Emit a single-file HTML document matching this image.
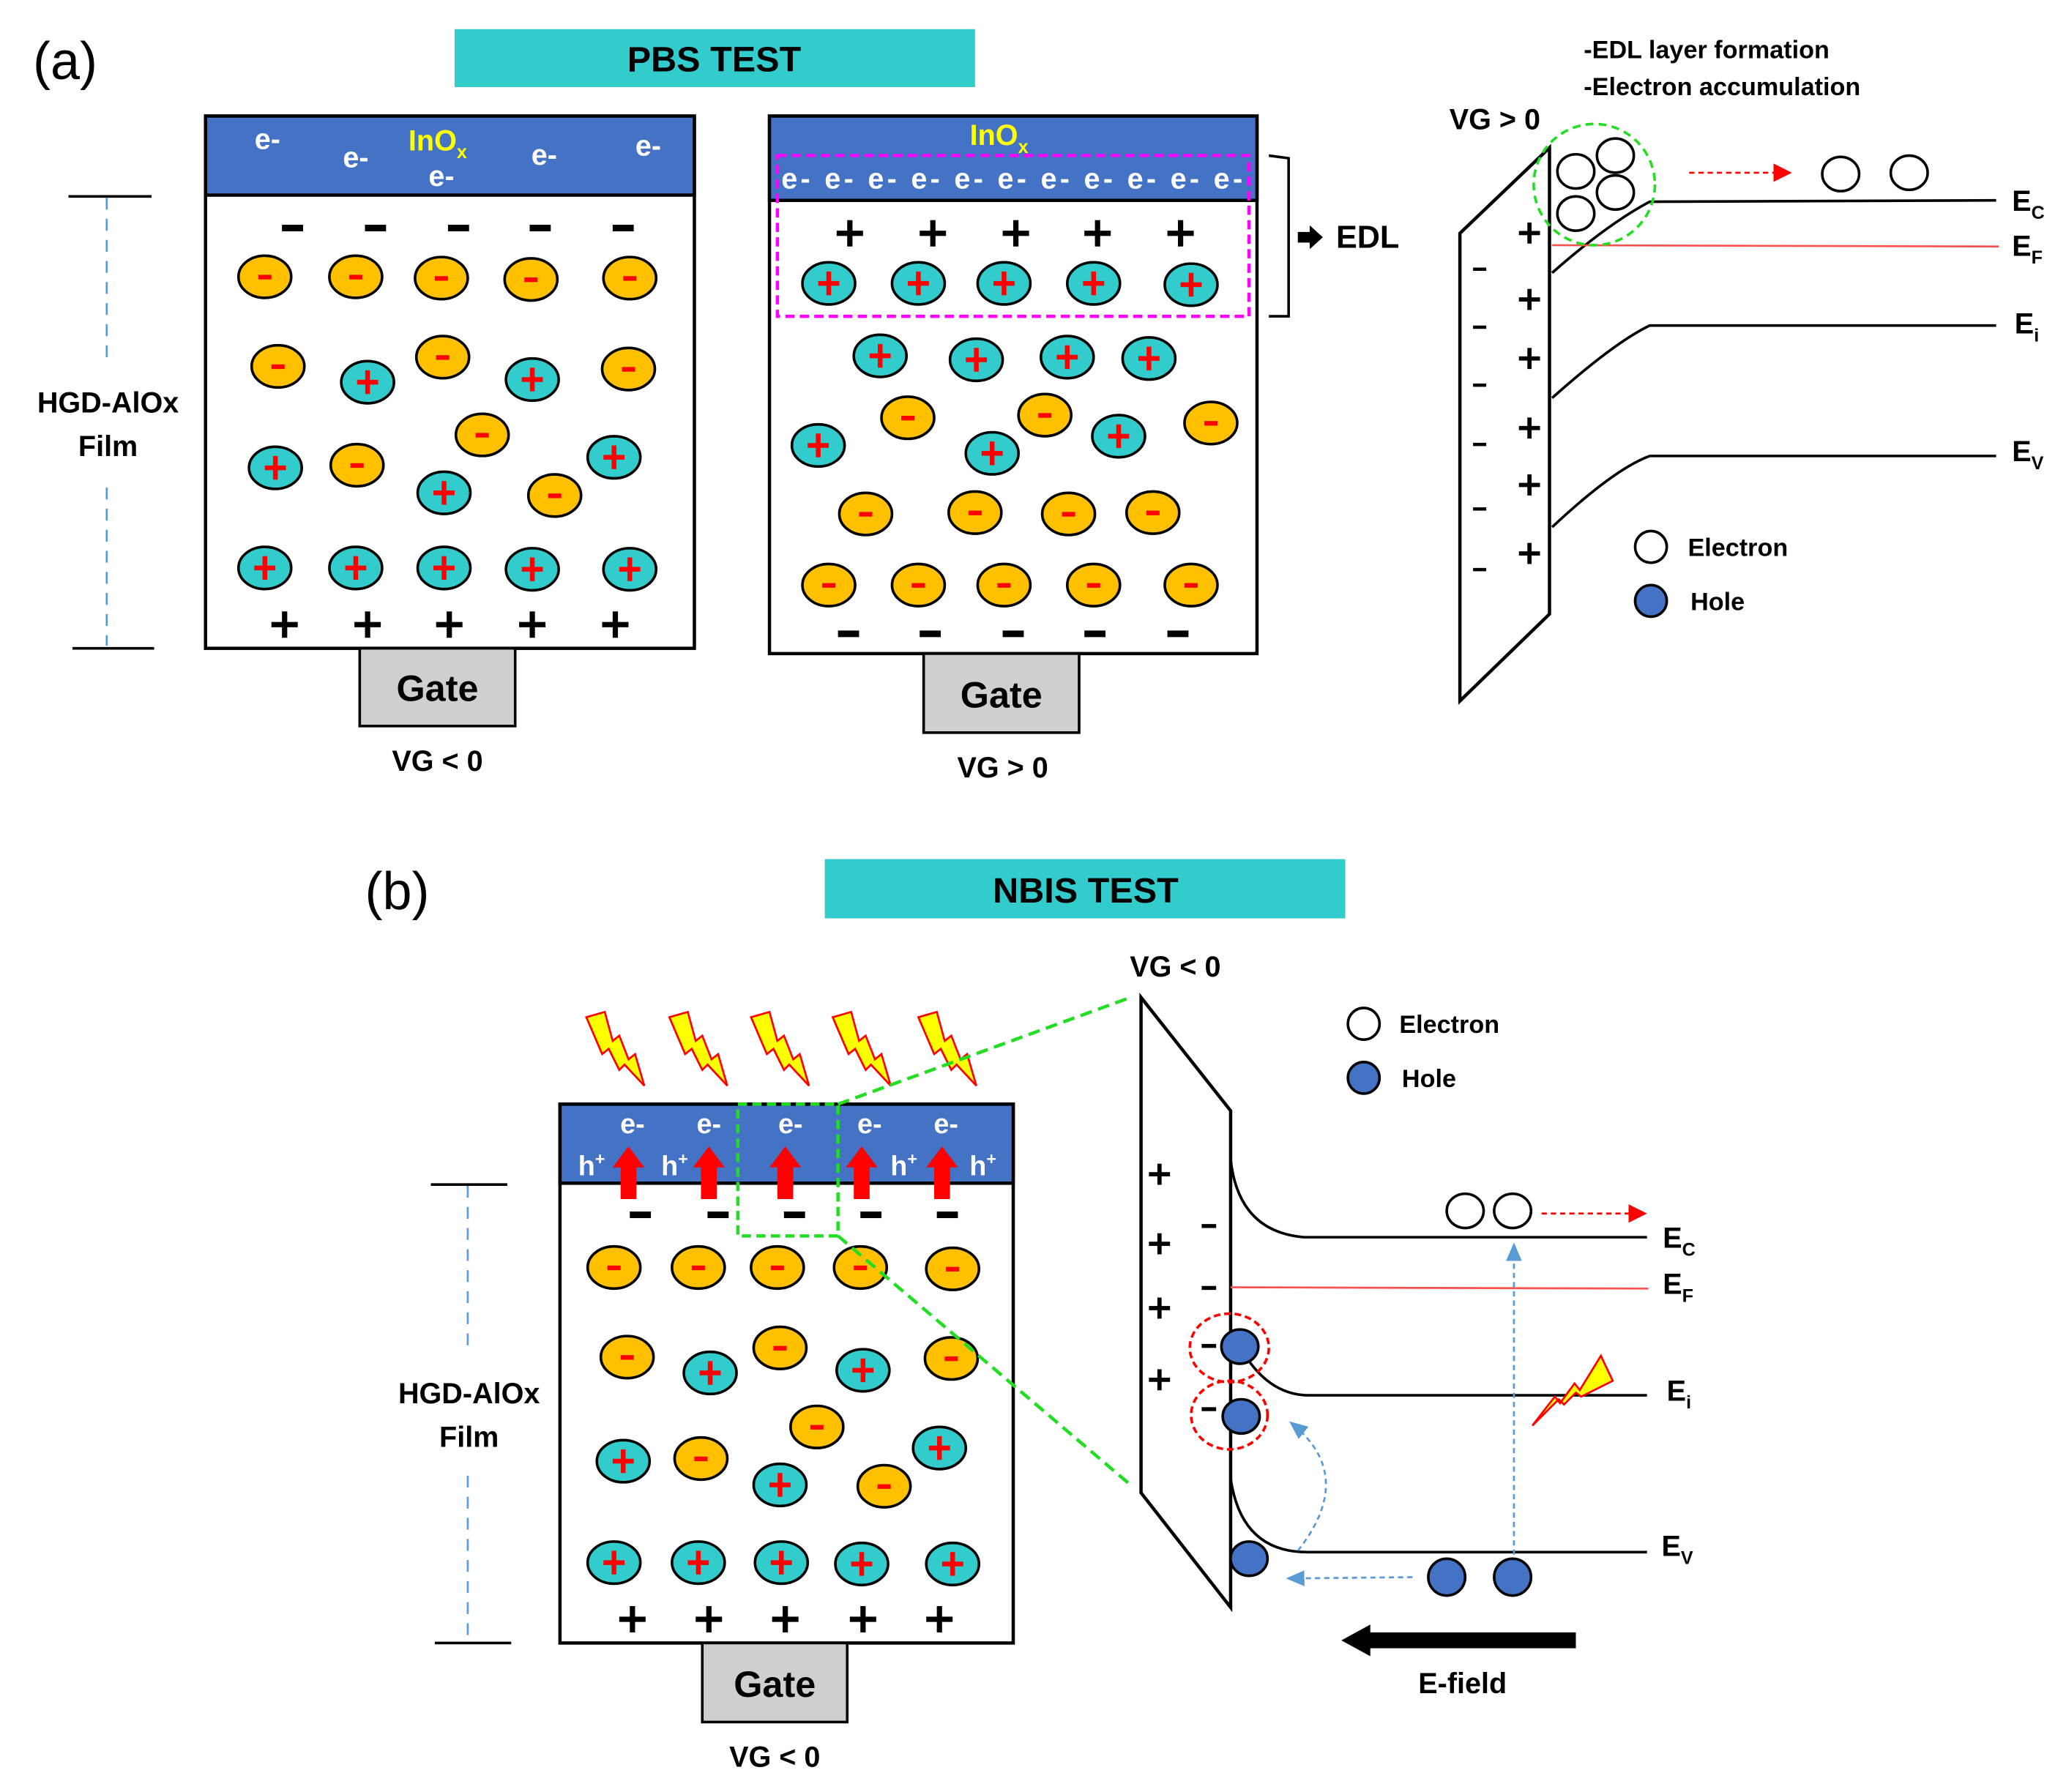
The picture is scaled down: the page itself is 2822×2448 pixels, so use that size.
<!DOCTYPE html>
<html><head><meta charset="utf-8"><style>
html,body{margin:0;padding:0;background:#fff}
svg{display:block}
text{font-family:"Liberation Sans",sans-serif;font-weight:bold}
</style></head><body>
<svg width="2822" height="2448" viewBox="0 0 1568 1360" xmlns="http://www.w3.org/2000/svg">
<defs>
<g id="o"><ellipse rx="20" ry="16" fill="#FFC000" stroke="#000" stroke-width="2"/><rect x="-5" y="-1.5" width="10" height="3.5" fill="#f00"/></g>
<g id="c"><ellipse rx="20" ry="16" fill="#33CCCC" stroke="#000" stroke-width="2"/><rect x="-8" y="-1.8" width="16" height="3.6" fill="#f00"/><rect x="-1.8" y="-9" width="3.6" height="18" fill="#f00"/></g>
<g id="m"><rect x="-8" y="-2.5" width="16" height="5" fill="#000"/></g>
<g id="p"><rect x="-10" y="-2" width="20" height="4" fill="#000"/><rect x="-2" y="-10" width="4" height="20" fill="#000"/></g>
<g id="bolt"><path d="M0,0 L14,-4 L20,18 L25,14 L32,32 L37,28 L44,52 L29,36 L25,40 L17,24 L12,28 Z" fill="#FFFF00" stroke="#f00" stroke-width="1.5"/></g>
<marker id="ar" markerWidth="8" markerHeight="8" refX="7" refY="4" orient="auto" markerUnits="userSpaceOnUse"><path d="M0,0 L8,4 L0,8Z" fill="#f00"/></marker>
<marker id="ab" markerWidth="14" markerHeight="12" refX="12" refY="6" orient="auto" markerUnits="userSpaceOnUse"><path d="M0,0 L14,6 L0,12Z" fill="#5B9BD5"/></marker>
<marker id="ar2" markerWidth="14" markerHeight="14" refX="12" refY="7" orient="auto" markerUnits="userSpaceOnUse"><path d="M0,0 L14,7 L0,14Z" fill="#f00"/></marker>
</defs>

<!-- (a) -->
<text x="25" y="60" font-size="40" style="font-weight:normal">(a)</text>
<rect x="345" y="22" width="395" height="44" fill="#33CCCC"/>
<text x="542" y="54" font-size="27" text-anchor="middle">PBS TEST</text>

<!-- scale bar a -->
<line x1="52" y1="149" x2="115" y2="149" stroke="#000" stroke-width="2"/>
<line x1="55" y1="492" x2="117" y2="492" stroke="#000" stroke-width="2"/>
<line x1="81" y1="150" x2="81" y2="275" stroke="#5B9BD5" stroke-width="1.5" stroke-dasharray="9,7"/>
<line x1="81" y1="370" x2="81" y2="490" stroke="#5B9BD5" stroke-width="1.5" stroke-dasharray="9,7"/>
<text x="82" y="313" font-size="22" text-anchor="middle">HGD-AlOx</text>
<text x="82" y="346" font-size="22" text-anchor="middle">Film</text>

<!-- left box -->
<rect x="156" y="88" width="371" height="404" fill="#fff" stroke="#000" stroke-width="2.5"/>
<rect x="156" y="88" width="371" height="60" fill="#4472C4" stroke="#000" stroke-width="2.5"/>
<g fill="#fff" font-size="22"><text x="203" y="113" text-anchor="middle">e-</text><text x="270" y="127" text-anchor="middle">e-</text><text x="335" y="141" text-anchor="middle">e-</text><text x="413" y="125" text-anchor="middle">e-</text><text x="492" y="118" text-anchor="middle">e-</text></g>
<text x="310" y="114" font-size="22" fill="#FFFF00">InO<tspan font-size="14" dy="6">x</tspan></text>
<use href="#m" x="222" y="173"/><use href="#m" x="285" y="173"/><use href="#m" x="348" y="173"/><use href="#m" x="410" y="173"/><use href="#m" x="473" y="173"/>
<use href="#o" x="201" y="210"/><use href="#o" x="270" y="210"/><use href="#o" x="335" y="211"/><use href="#o" x="403" y="212"/><use href="#o" x="478" y="211"/>
<use href="#o" x="211" y="278"/><use href="#c" x="279" y="290"/><use href="#o" x="336" y="271"/><use href="#c" x="404" y="288"/><use href="#o" x="477" y="280"/>
<use href="#c" x="209" y="355"/><use href="#o" x="271" y="353"/><use href="#o" x="366" y="330"/><use href="#c" x="337" y="374"/><use href="#o" x="421" y="376"/><use href="#c" x="466" y="347"/>
<use href="#c" x="201" y="431"/><use href="#c" x="270" y="431"/><use href="#c" x="337" y="431"/><use href="#c" x="404" y="432"/><use href="#c" x="478" y="432"/>
<use href="#p" x="216" y="474"/><use href="#p" x="279" y="474"/><use href="#p" x="341" y="474"/><use href="#p" x="404" y="474"/><use href="#p" x="467" y="474"/>
<rect x="273" y="492" width="118" height="59" fill="#D0CECE" stroke="#000" stroke-width="2"/>
<text x="332" y="532" font-size="28" text-anchor="middle">Gate</text>
<text x="332" y="585" font-size="22" text-anchor="middle">VG &lt; 0</text>

<!-- middle box -->
<rect x="584" y="88" width="370" height="408" fill="#fff" stroke="#000" stroke-width="2.5"/>
<rect x="584" y="88" width="370" height="64" fill="#4472C4" stroke="#000" stroke-width="2.5"/>
<text x="736" y="110" font-size="22" fill="#FFFF00">InO<tspan font-size="14" dy="6">x</tspan></text>
<text x="593" y="143" font-size="22" fill="#fff" textLength="350">e- e- e- e- e- e- e- e- e- e- e-</text>
<rect x="590" y="118" width="358" height="122" fill="none" stroke="#FF00FF" stroke-width="2.5" stroke-dasharray="7,4"/>
<use href="#p" x="645" y="177"/><use href="#p" x="708" y="177"/><use href="#p" x="771" y="177"/><use href="#p" x="833" y="177"/><use href="#p" x="896" y="177"/>
<use href="#c" x="629" y="215"/><use href="#c" x="697" y="215"/><use href="#c" x="762" y="215"/><use href="#c" x="830" y="215"/><use href="#c" x="904" y="216"/>
<use href="#c" x="668" y="270"/><use href="#c" x="741" y="273"/><use href="#c" x="810" y="271"/><use href="#c" x="872" y="272"/>
<use href="#c" x="621" y="338"/><use href="#o" x="689" y="317"/><use href="#c" x="753" y="344"/><use href="#o" x="793" y="315"/><use href="#c" x="849" y="331"/><use href="#o" x="919" y="321"/>
<use href="#o" x="657" y="390"/><use href="#o" x="740" y="389"/><use href="#o" x="811" y="390"/><use href="#o" x="875" y="389"/>
<use href="#o" x="629" y="444"/><use href="#o" x="697" y="444"/><use href="#o" x="762" y="444"/><use href="#o" x="830" y="444"/><use href="#o" x="904" y="444"/>
<use href="#m" x="644" y="481"/><use href="#m" x="706" y="481"/><use href="#m" x="769" y="481"/><use href="#m" x="831" y="481"/><use href="#m" x="894" y="481"/>
<rect x="701" y="496" width="118" height="60" fill="#D0CECE" stroke="#000" stroke-width="2"/>
<text x="760" y="537" font-size="28" text-anchor="middle">Gate</text>
<text x="761" y="590" font-size="22" text-anchor="middle">VG &gt; 0</text>
<path d="M963,118 L978,120 L978,240 L963,240" fill="none" stroke="#000" stroke-width="2"/>
<path d="M985,176 L994,176 L994,171 L1004,180 L994,189 L994,184 L985,184Z" fill="#000"/>
<text x="1014" y="188" font-size="24">EDL</text>

<!-- right band diagram (a) -->
<text x="1202" y="44" font-size="19">-EDL layer formation</text>
<text x="1202" y="72" font-size="19">-Electron accumulation</text>
<text x="1100" y="98" font-size="22">VG &gt; 0</text>
<path d="M1108,532 L1108,177 L1176,112 L1176,466 Z" fill="none" stroke="#000" stroke-width="2.5"/>
<path d="M1178,207 Q1220,170 1252,153 L1515,152" fill="none" stroke="#000" stroke-width="2"/>
<line x1="1178" y1="186" x2="1517" y2="187" stroke="#FF5050" stroke-width="1.5"/>
<path d="M1178,302 Q1225,260 1252,247 L1515,247" fill="none" stroke="#000" stroke-width="2"/>
<path d="M1178,400 Q1225,356 1252,346 L1515,346" fill="none" stroke="#000" stroke-width="2"/>
<g font-size="22"><text x="1527" y="160">E<tspan font-size="14" dy="6">C</tspan></text><text x="1527" y="194">E<tspan font-size="14" dy="6">F</tspan></text><text x="1529" y="253">E<tspan font-size="14" dy="6">i</tspan></text><text x="1527" y="350">E<tspan font-size="14" dy="6">V</tspan></text></g>
<g transform="scale(0.8)"><use href="#p" x="1451" y="221"/><use href="#p" x="1451" y="284"/><use href="#p" x="1451" y="340"/><use href="#p" x="1451" y="406"/><use href="#p" x="1451" y="460"/><use href="#p" x="1451" y="525"/></g>
<g fill="#000"><rect x="1118" y="203" width="10" height="2.5"/><rect x="1118" y="247" width="10" height="2.5"/><rect x="1118" y="291" width="10" height="2.5"/><rect x="1118" y="336" width="10" height="2.5"/><rect x="1118" y="385" width="10" height="2.5"/><rect x="1118" y="431" width="10" height="2.5"/></g>
<circle cx="1210" cy="140" r="46" fill="none" stroke="#22DD22" stroke-width="2" stroke-dasharray="6,4"/>
<g fill="#fff" stroke="#000" stroke-width="2"><ellipse cx="1196" cy="130" rx="14" ry="13"/><ellipse cx="1226" cy="118" rx="14" ry="13"/><ellipse cx="1196" cy="162" rx="14" ry="13"/><ellipse cx="1226" cy="146" rx="14" ry="13"/><ellipse cx="1397" cy="132" rx="14" ry="13"/><ellipse cx="1449" cy="131" rx="14" ry="13"/></g>
<line x1="1282" y1="131" x2="1358" y2="131" stroke="#f00" stroke-width="1.5" stroke-dasharray="4,3" marker-end="url(#ar2)"/>
<circle cx="1253" cy="415" r="12" fill="#fff" stroke="#000" stroke-width="2"/>
<text x="1281" y="422" font-size="19">Electron</text>
<circle cx="1253" cy="456" r="12" fill="#4472C4" stroke="#000" stroke-width="2"/>
<text x="1283" y="463" font-size="19">Hole</text>

<!-- (b) -->
<text x="277" y="690" font-size="40" style="font-weight:normal">(b)</text>
<rect x="626" y="652" width="395" height="45" fill="#33CCCC"/>
<text x="824" y="685" font-size="27" text-anchor="middle">NBIS TEST</text>

<line x1="327" y1="899" x2="385" y2="899" stroke="#000" stroke-width="2"/>
<line x1="330" y1="1247" x2="388" y2="1247" stroke="#000" stroke-width="2"/>
<line x1="355" y1="900" x2="355" y2="1025" stroke="#5B9BD5" stroke-width="1.5" stroke-dasharray="9,7"/>
<line x1="355" y1="1120" x2="355" y2="1245" stroke="#5B9BD5" stroke-width="1.5" stroke-dasharray="9,7"/>
<text x="356" y="1065" font-size="22" text-anchor="middle">HGD-AlOx</text>
<text x="356" y="1098" font-size="22" text-anchor="middle">Film</text>

<use href="#bolt" x="445" y="772"/><use href="#bolt" x="508" y="772"/><use href="#bolt" x="570" y="772"/><use href="#bolt" x="632" y="772"/><use href="#bolt" x="697" y="772"/>

<rect x="425" y="838" width="344" height="409" fill="#fff" stroke="#000" stroke-width="2.5"/>
<rect x="425" y="838" width="344" height="60" fill="#4472C4" stroke="#000" stroke-width="2.5"/>
<g fill="#fff" font-size="21"><text x="480" y="860" text-anchor="middle">e-</text><text x="538" y="860" text-anchor="middle">e-</text><text x="600" y="860" text-anchor="middle">e-</text><text x="660" y="860" text-anchor="middle">e-</text><text x="718" y="860" text-anchor="middle">e-</text>
<text x="449" y="892" text-anchor="middle">h<tspan font-size="13" dy="-8">+</tspan></text><text x="512" y="892" text-anchor="middle">h<tspan font-size="13" dy="-8">+</tspan></text><text x="686" y="892" text-anchor="middle">h<tspan font-size="13" dy="-8">+</tspan></text><text x="746" y="892" text-anchor="middle">h<tspan font-size="13" dy="-8">+</tspan></text></g>
<g fill="#f00"><path d="M471,910 L471,886 L465,886 L477,870 L489,886 L483,886 L483,910Z"/><path d="M532,910 L532,886 L526,886 L538,870 L550,886 L544,886 L544,910Z"/><path d="M590,910 L590,886 L584,886 L596,870 L608,886 L602,886 L602,910Z"/><path d="M648,910 L648,886 L642,886 L654,870 L666,886 L660,886 L660,910Z"/><path d="M709,910 L709,886 L703,886 L715,870 L727,886 L721,886 L721,910Z"/></g>
<use href="#m" x="486" y="922"/><use href="#m" x="545" y="922"/><use href="#m" x="603" y="922"/><use href="#m" x="661" y="922"/><use href="#m" x="719" y="922"/>
<use href="#o" x="466" y="962"/><use href="#o" x="530" y="962"/><use href="#o" x="590" y="962"/><use href="#o" x="653" y="962"/><use href="#o" x="723" y="963"/>
<use href="#o" x="476" y="1030"/><use href="#c" x="539" y="1042"/><use href="#o" x="592" y="1023"/><use href="#c" x="655" y="1040"/><use href="#o" x="722" y="1031"/>
<use href="#c" x="473" y="1109"/><use href="#o" x="532" y="1107"/><use href="#o" x="620" y="1083"/><use href="#c" x="592" y="1127"/><use href="#o" x="671" y="1128"/><use href="#c" x="713" y="1099"/>
<use href="#c" x="466" y="1186"/><use href="#c" x="530" y="1186"/><use href="#c" x="593" y="1186"/><use href="#c" x="654" y="1187"/><use href="#c" x="723" y="1187"/>
<use href="#p" x="480" y="1229"/><use href="#p" x="538" y="1229"/><use href="#p" x="596" y="1229"/><use href="#p" x="655" y="1229"/><use href="#p" x="713" y="1229"/>
<rect x="533" y="1247" width="110" height="60" fill="#D0CECE" stroke="#000" stroke-width="2"/>
<text x="588" y="1288" font-size="28" text-anchor="middle">Gate</text>
<text x="588" y="1341" font-size="22" text-anchor="middle">VG &lt; 0</text>

<rect x="560" y="838" width="76" height="100" fill="none" stroke="#22DD22" stroke-width="2.5" stroke-dasharray="7,4"/>
<line x1="636" y1="838" x2="858" y2="757" stroke="#22DD22" stroke-width="2.5" stroke-dasharray="9,5"/>
<line x1="636" y1="938" x2="858" y2="1127" stroke="#22DD22" stroke-width="2.5" stroke-dasharray="9,5"/>

<!-- band (b) -->
<text x="892" y="741" font-size="22" text-anchor="middle">VG &lt; 0</text>
<path d="M866,757 L934,843 L934,1220 L866,1133 Z" fill="none" stroke="#000" stroke-width="2.5"/>
<path d="M934,880 Q940,935 990,939 L1250,939" fill="none" stroke="#000" stroke-width="2"/>
<line x1="934" y1="977" x2="1251" y2="978" stroke="#FF5050" stroke-width="1.5"/>
<path d="M940,1020 Q960,1058 992,1059 L1250,1059" fill="none" stroke="#000" stroke-width="2"/>
<path d="M934,1122 Q942,1178 992,1178 L1250,1178" fill="none" stroke="#000" stroke-width="2"/>
<g font-size="22"><text x="1262" y="947">E<tspan font-size="14" dy="6">C</tspan></text><text x="1262" y="982">E<tspan font-size="14" dy="6">F</tspan></text><text x="1265" y="1063">E<tspan font-size="14" dy="6">i</tspan></text><text x="1261" y="1181">E<tspan font-size="14" dy="6">V</tspan></text></g>
<g transform="translate(880,0) scale(0.8)"><use href="#p" x="0" y="1114"/><use href="#p" x="0" y="1180"/><use href="#p" x="0" y="1241"/><use href="#p" x="0" y="1309"/></g>
<g fill="#000"><rect x="912" y="929" width="11" height="3"/><rect x="912" y="976" width="11" height="3"/><rect x="912" y="1020" width="11" height="3"/><rect x="912" y="1068" width="11" height="3"/></g>
<ellipse cx="933" cy="1023" rx="30" ry="26" fill="none" stroke="#f00" stroke-width="2" stroke-dasharray="5,3"/>
<ellipse cx="933" cy="1074" rx="29" ry="26" fill="none" stroke="#f00" stroke-width="2" stroke-dasharray="5,3"/>
<path d="M985,1177 Q1030,1120 980,1080" fill="none" stroke="#5B9BD5" stroke-width="1.5" stroke-dasharray="4,3" marker-end="url(#ab)"/>
<line x1="1072" y1="1197" x2="978" y2="1198" stroke="#5B9BD5" stroke-width="1.5" stroke-dasharray="4,3" marker-end="url(#ab)"/>
<line x1="1149" y1="1180" x2="1149" y2="945" stroke="#5B9BD5" stroke-width="1.5" stroke-dasharray="4,3" marker-end="url(#ab)"/>
<g fill="#4472C4" stroke="#000" stroke-width="2"><ellipse cx="941" cy="1022" rx="14" ry="13"/><ellipse cx="942" cy="1075" rx="14" ry="13"/><ellipse cx="948" cy="1183" rx="14" ry="13"/><ellipse cx="1098" cy="1197" rx="14" ry="14"/><ellipse cx="1148" cy="1197" rx="14" ry="14"/></g>
<g fill="#fff" stroke="#000" stroke-width="2"><ellipse cx="1112" cy="919" rx="14" ry="13"/><ellipse cx="1148" cy="919" rx="14" ry="13"/></g>
<line x1="1170" y1="921" x2="1248" y2="921" stroke="#f00" stroke-width="1.5" stroke-dasharray="4,3" marker-end="url(#ar2)"/>
<path d="M1163,1082 L1180,1060 L1184,1065 L1195,1050 L1199,1055 L1215,1029 L1224,1048 L1200,1060 L1196,1057 L1187,1066 L1183,1062Z" fill="#FFFF00" stroke="#f00" stroke-width="1.5"/>
<path d="M1196,1239 L1040,1239 L1040,1233 L1018,1245 L1040,1257 L1040,1251 L1196,1251Z" fill="#000"/>
<text x="1110" y="1285" font-size="22" text-anchor="middle">E-field</text>
<circle cx="1035" cy="777" r="12" fill="#fff" stroke="#000" stroke-width="2"/>
<text x="1062" y="784" font-size="19">Electron</text>
<circle cx="1035" cy="818" r="12" fill="#4472C4" stroke="#000" stroke-width="2"/>
<text x="1064" y="825" font-size="19">Hole</text>
</svg>
</body></html>
